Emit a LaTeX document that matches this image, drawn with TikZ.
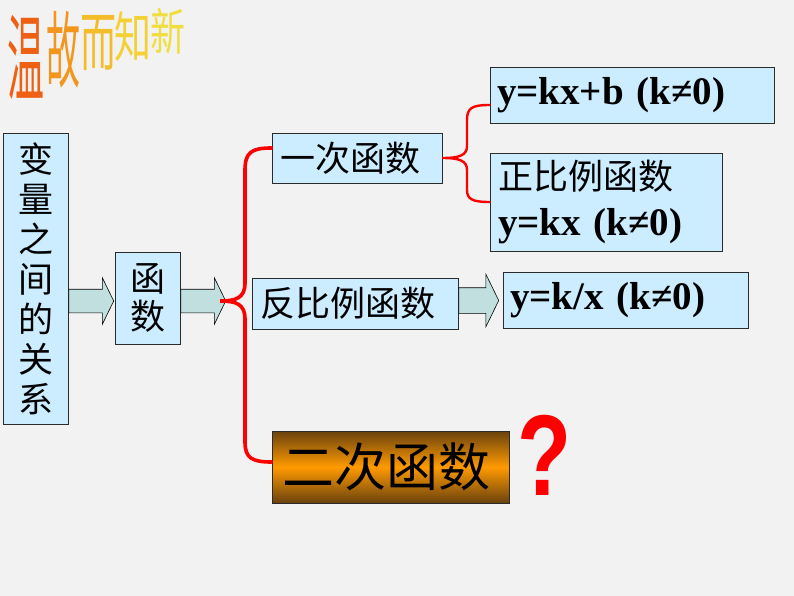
\documentclass[tikz,border=0pt]{standalone}
\usepackage{fontspec}
\usepackage{graphicx}
\newfontfamily\cjk{Noto Sans CJK SC}
\newfontfamily\formula{Liberation Serif}
\newfontfamily\qfont{Liberation Sans}
\usetikzlibrary{
    shapes,
    shapes.arrows,
    positioning
}
\definecolor{bg}{HTML}{F2F2F2}
\definecolor{boxblue}{HTML}{CCECFF}
\definecolor{boxline}{HTML}{2B2B2B}
\definecolor{arrowfill}{HTML}{C2DFE0}
\definecolor{bracered}{HTML}{FF0000}
\definecolor{quaddark}{HTML}{6A420E}
\definecolor{quadorange}{HTML}{FF9A00}
\tikzset{
    box/.style={
        draw=boxline,
        fill=boxblue,
        line width=0.8pt,
        inner sep=0pt,
        font=\cjk\fontsize{35}{40}\selectfont
    },
    leftbox/.style={
        box,
        align=left,
        inner xsep=8pt
    },
    formulabox/.style={
        leftbox,
        inner xsep=7pt,
        font=\formula\bfseries\fontsize{39}{46}\selectfont
    },
    blockarrow/.style={
        single arrow,
        draw=black,
        fill=arrowfill,
        line width=0.6pt,
        inner xsep=0pt,
        inner ysep=11.5pt,
        single arrow head extend=11.5pt,
        single arrow tip angle=128,
        minimum height=45pt
    },
    titlechar/.style={
        inner sep=0pt,
        font=\cjk\fontsize{50}{50}\selectfont
    }
}

\begin{document}
\begin{tikzpicture}[
    x=1pt, y=-1pt,
    bigbrace/.style={draw=bracered, line width=3.6pt, line cap=round},
    smallbrace/.style={draw=bracered, line width=2.4pt, line cap=round}
    ]

    \fill[bg] (0, 0) rectangle (794, 596);

    % title
    \node[titlechar, text={rgb,255:red,238;green,96;blue,20}] (t1) at (26, 57) {\scalebox{0.74}[1.89]{温}};
    \node[titlechar, text={rgb,255:red,242;green,150;blue,30}] (t2) at (63, 50) {\scalebox{0.68}[1.67]{故}};
    \node[titlechar, text={rgb,255:red,245;green,188;blue,42}] (t3) at (98, 43) {\scalebox{0.72}[1.27]{而}};
    \node[titlechar, text={rgb,255:red,243;green,208;blue,52}] (t4) at (133, 37) {\scalebox{0.74}[1.09]{知}};
    \node[titlechar, text={rgb,255:red,240;green,222;blue,64}] (t5) at (168, 31) {\scalebox{0.7}[1.0]{新}};

    % boxes
    \node[box, align=center, minimum width=65pt, minimum height=291pt] (rel) at (35.5, 278.5) {变\\量\\之\\间\\的\\关\\系};
    \node[box, align=center, minimum width=65pt, minimum height=92pt, font=\cjk\fontsize{35}{38}\selectfont] (func) at (147.5, 298) {函\\数};
    \node[leftbox, text width=154pt, minimum height=50pt] (linear) at (357, 158) {一次函数};
    \node[formulabox, text width=270pt, minimum height=56pt] (linform) at (632, 95) {y=kx+b (k≠0)};
    \node[leftbox, text width=216pt, minimum height=98pt, font=\formula\bfseries\fontsize{39}{46}\selectfont] (prop) at (606, 202) {{\cjk\mdseries\fontsize{35}{40}\selectfont 正比例函数}\\y=kx (k≠0)};
    \node[leftbox, text width=190pt, minimum height=51pt] (inverse) at (355, 303.5) {反比例函数};
    \node[formulabox, text width=231pt, minimum height=56pt] (invform) at (625.5, 300) {y=k/x (k≠0)};
    \node[leftbox, inner xsep=10pt, text width=217pt, minimum height=72pt, font=\cjk\fontsize{52}{56}\selectfont,
          top color=quaddark, bottom color=quaddark, middle color=quadorange] (quad) at (390.5, 467) {二次函数};
    \node[inner sep=0pt, text=bracered, font=\qfont\bfseries\fontsize{115}{115}\selectfont] (qmark) at (545, 455) {\scalebox{0.77}[1]{?}};

    % block arrows
    \node[blockarrow, anchor=tail] (a1) at (rel.east |- 0,301) {};
    \node[blockarrow, anchor=tail] (a2) at (func.east |- 0,301) {};
    \node[blockarrow, anchor=tail, minimum height=40pt, inner ysep=12.5pt, single arrow head extend=13.5pt] (a3) at (inverse.east |- 0,300.5) {};

    % braces
    \coordinate (cusp) at ([xshift=-6pt]a2.tip);
    \draw[bigbrace] ([yshift=10pt]linear.west) .. controls (252, 148) and (245, 152) .. (245, 170)
        -- (245, 283) .. controls (245, 298) and (236, 301) .. (cusp)
        .. controls (236, 301) and (245, 304) .. (245, 319)
        -- (245, 442) .. controls (245, 458) and (252, 462) .. ([yshift=5pt]quad.west);
    \draw[smallbrace] ([yshift=-10pt]linform.west) .. controls (472, 105) and (467, 108) .. (467, 120)
        -- (467, 146) .. controls (467, 155) and (460, 158) .. (linear.east)
        .. controls (460, 158) and (467, 161) .. (467, 170)
        -- (467, 190) .. controls (467, 199) and (472, 202) .. (prop.west);

\end{tikzpicture}
\end{document}
